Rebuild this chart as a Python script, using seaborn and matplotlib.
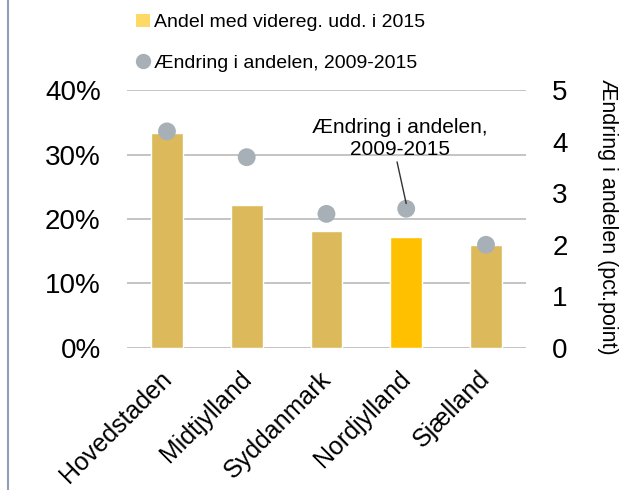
import matplotlib
matplotlib.use("Agg")
import matplotlib.pyplot as plt
import matplotlib.transforms as mtransforms
from matplotlib.lines import Line2D
from matplotlib.patches import Patch
from matplotlib.ticker import PercentFormatter
import seaborn as sns

# data
regions = ["Hovedstaden", "Midtjylland", "Syddanmark", "Nordjylland", "Sjælland"]
share_2015 = [0.333, 0.222, 0.181, 0.172, 0.160]
change_0915 = [4.2, 3.7, 2.6, 2.7, 2.0]
highlight = "Nordjylland"

bar_label = "Andel med videreg. udd. i 2015"
dot_label = "Ændring i andelen, 2009-2015"
right_ylabel = "Ændring i andelen (pct.point)"

BAR = "#DCBA5C"
BAR_HI = "#FFC000"
DOT = "#A7AFB7"
GRID = "#BFBFBF"

sns.set_style("white")
plt.rcParams["font.family"] = ["Liberation Sans", "DejaVu Sans"]
plt.rcParams["text.color"] = "black"
plt.rcParams["axes.labelcolor"] = "black"
plt.rcParams["xtick.color"] = "black"
plt.rcParams["ytick.color"] = "black"

fig = plt.figure(figsize=(6.26, 4.9), dpi=100)
ax = fig.add_axes([0.203, 0.290, 0.637, 0.526])

colors = [BAR_HI if r == highlight else BAR for r in regions]
sns.barplot(x=regions, y=share_2015, hue=regions, palette=colors, legend=False,
            width=0.4, saturation=1, ax=ax, zorder=2)
ax.set_ylim(0, 0.4)
ax.set_xlim(-0.5, 4.5)
ax.set_yticks([0, 0.1, 0.2, 0.3, 0.4])
ax.yaxis.set_major_formatter(PercentFormatter(1.0, decimals=0))
ax.grid(axis="y", color=GRID, lw=1.3, zorder=0)
ax.set_axisbelow(True)
for s in ax.spines.values():
    s.set_visible(False)
ax.tick_params(axis="y", length=0, pad=19, labelsize=20)
ax.tick_params(axis="x", length=0, pad=13.5, labelsize=18)
# nudge the slanted labels a little to the left, as in the original
shift = mtransforms.ScaledTranslation(-0.08, 0, fig.dpi_scale_trans)
for lab in ax.get_xticklabels():
    lab.set_rotation(45)
    lab.set_ha("right")
    lab.set_rotation_mode("anchor")
    lab.set_transform(lab.get_transform() + shift)

ax2 = ax.twinx()
sns.scatterplot(x=list(range(len(regions))), y=change_0915, color=DOT, s=165,
                edgecolor="none", ax=ax2, zorder=3)
ax2.set_ylim(0, 5)
ax2.set_yticks([0, 1, 2, 3, 4, 5])
for s in ax2.spines.values():
    s.set_visible(False)
ax2.tick_params(axis="y", length=0, pad=19, labelsize=20)
ax2.set_ylabel(right_ylabel, rotation=270, fontsize=15.5)
ax2.yaxis.label.set_va("center")
ax2.yaxis.label.set_ha("center")
ax2.yaxis.set_label_coords(1.205, 0.51)

ax2.annotate("Ændring i andelen,\n2009-2015", xy=(3.0, 2.8), xytext=(2.92, 4.07),
             ha="center", va="center", fontsize=15,
             arrowprops=dict(arrowstyle="-", color="#333333", lw=1,
                             shrinkA=0, shrinkB=0, relpos=(0.48, 0.0)))

handles = [Patch(facecolor="#FFD966", edgecolor="none"),
           Line2D([], [], marker="o", ls="none", color=DOT, markersize=10)]
fig.legend(handles, [bar_label, dot_label], loc="upper left",
           bbox_to_anchor=(0.202, 0.992), frameon=False, fontsize=14,
           handlelength=0.7, handleheight=0.7, handletextpad=0.2,
           labelspacing=1.2, borderpad=0)

fig.add_artist(Line2D([0.013, 0.013], [0, 1], color="#8EA0B8", lw=1.5))

fig.savefig("out.png", dpi=100)
